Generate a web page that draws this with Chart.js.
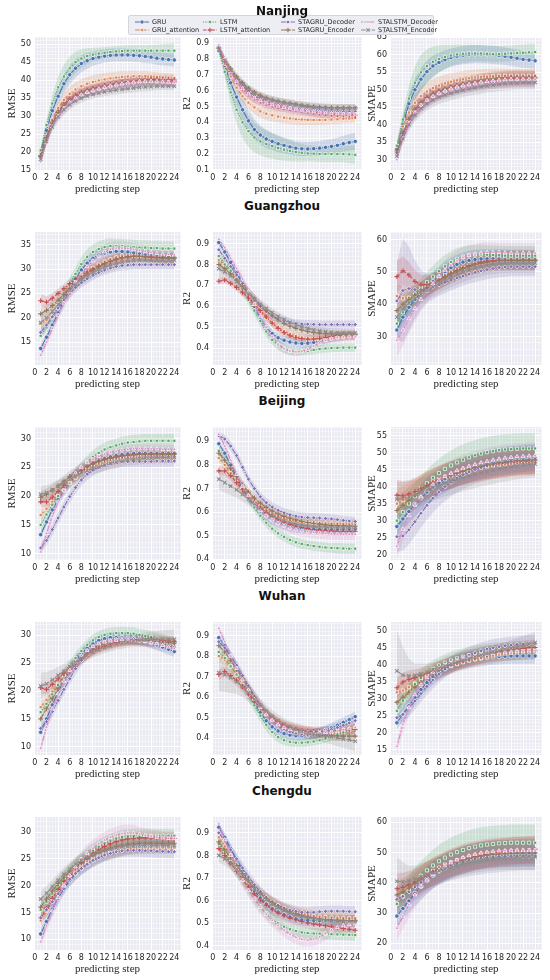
<!DOCTYPE html>
<html>
<head>
<meta charset="utf-8">
<script src="https://cdn.jsdelivr.net/npm/chart.js@4.4.0/dist/chart.umd.min.js"></script>
<style>
body { margin: 0; width: 550px; height: 980px; background: #fff; position: relative; overflow: hidden; font-family: "DejaVu Sans"; }
canvas { position: absolute; }
.ttl { position: absolute; left: 0; width: 564px; text-align: center; font: bold 12px "DejaVu Sans"; line-height: 14px; color: #111; z-index: 6; }
#legend { position: absolute; left: 128px; top: 15px; width: 304px; height: 18px; background: rgba(234,234,242,0.85); border: 1px solid #d4d4dc; border-radius: 2px; z-index: 5; }
#legend span { position: absolute; font: 6.5px "DejaVu Sans"; color: #262626; line-height: 8px; white-space: nowrap; }
</style>
</head>
<body>
<div id="legend"></div>
<script>
// data: mean value per step and half width of the shaded band

const steps = [1,2,3,4,5,6,7,8,9,10,11,12,13,14,15,16,17,18,19,20,21,22,23,24];
const models = ['GRU','GRU_attention','LSTM','LSTM_attention','STAGRU_Decoder','STAGRU_Encoder','STALSTM_Decoder','STALSTM_Encoder'];
const cities = ['Nanjing','Guangzhou','Beijing','Wuhan','Chengdu'];
const metrics = ['RMSE','R2','SMAPE'];

const nanjingRmse = [
  [20,26,31.5,35.5,39,41.5,43.3,44.6,45.4,46,46.4,46.7,46.9,47,47,47,46.9,46.8,46.6,46.4,46.1,45.9,45.7,45.6],
  [19.5,24.5,29,32.3,34.5,36.2,37.4,38.3,39,39.5,39.9,40.2,40.5,40.7,40.9,41,41.1,41.1,41.1,41,40.9,40.8,40.7,40.6],
  [20.5,27.5,33.5,38,41,43.3,45,46,46.7,47.1,47.4,47.6,47.8,48,48.1,48.2,48.2,48.2,48.2,48.2,48.2,48.2,48.2,48.2],
  [19,24,28.3,31.2,33.3,34.8,35.8,36.6,37.2,37.7,38.1,38.5,38.8,39.1,39.4,39.6,39.8,40,40.1,40.2,40.2,40.1,40.1,40],
  [18.5,23.5,27.8,30.8,32.8,34.3,35.3,36.1,36.7,37.2,37.6,38,38.3,38.6,38.9,39.1,39.3,39.5,39.6,39.7,39.7,39.7,39.6,39.5],
  [18.8,24,28,31,33,34.5,35.6,36.4,37,37.5,37.9,38.3,38.6,38.9,39.2,39.4,39.6,39.7,39.8,39.8,39.8,39.7,39.6,39.5],
  [17.3,22.5,27,30,32.2,33.8,35,35.9,36.6,37.1,37.6,38,38.4,38.7,39,39.3,39.5,39.6,39.7,39.7,39.6,39.5,39.4,39.3],
  [18,23,27,29.8,31.8,33.2,34.2,35,35.6,36,36.4,36.7,37,37.2,37.4,37.6,37.8,38,38.1,38.2,38.3,38.3,38.3,38.3]
];
const nanjingRmseBand = [
  [0.6,1.2,1.8,2.3,2.6,2.7,2.6,2.4,2.2,2,1.9,1.8,1.8,1.8,1.8,1.8,1.8,1.8,1.8,1.8,1.8,1.8,1.8,1.8],
  [0.6,1,1.4,1.7,1.9,2,2,2,1.9,1.9,1.8,1.8,1.7,1.7,1.6,1.5,1.5,1.4,1.4,1.3,1.3,1.2,1.2,1.2],
  [0.8,1.6,2.4,3,3.3,3.3,3,2.6,2.2,1.9,1.7,1.6,1.5,1.5,1.5,1.5,1.5,1.5,1.5,1.6,1.7,1.8,1.9,2],
  [0.6,1,1.3,1.5,1.6,1.6,1.6,1.5,1.5,1.4,1.4,1.4,1.4,1.4,1.4,1.4,1.4,1.4,1.4,1.4,1.4,1.4,1.4,1.4],
  [0.6,0.9,1.2,1.4,1.5,1.5,1.5,1.5,1.4,1.4,1.4,1.4,1.4,1.4,1.4,1.4,1.4,1.4,1.4,1.4,1.4,1.4,1.4,1.4],
  [0.5,0.9,1.2,1.4,1.5,1.5,1.4,1.4,1.3,1.3,1.3,1.3,1.3,1.3,1.3,1.3,1.3,1.3,1.3,1.3,1.3,1.3,1.3,1.3],
  [0.7,1,1.3,1.5,1.6,1.6,1.5,1.5,1.4,1.4,1.4,1.4,1.4,1.4,1.4,1.4,1.4,1.4,1.4,1.4,1.4,1.4,1.4,1.4],
  [0.5,0.8,1.1,1.3,1.4,1.4,1.3,1.3,1.2,1.2,1.2,1.2,1.2,1.2,1.2,1.2,1.2,1.2,1.2,1.2,1.1,1.1,1.1,1.1]
];
const nanjingR2 = [
  [0.86,0.76,0.65,0.56,0.48,0.41,0.355,0.32,0.295,0.28,0.265,0.255,0.245,0.237,0.233,0.232,0.234,0.237,0.242,0.248,0.255,0.265,0.273,0.28],
  [0.86,0.77,0.69,0.62,0.565,0.525,0.495,0.47,0.455,0.445,0.437,0.43,0.425,0.42,0.418,0.416,0.415,0.415,0.416,0.418,0.42,0.423,0.425,0.428],
  [0.85,0.72,0.59,0.48,0.4,0.345,0.305,0.28,0.263,0.25,0.238,0.228,0.22,0.213,0.208,0.204,0.202,0.2,0.2,0.2,0.2,0.2,0.198,0.195],
  [0.87,0.79,0.72,0.66,0.615,0.58,0.555,0.535,0.52,0.51,0.5,0.495,0.488,0.482,0.476,0.47,0.465,0.46,0.455,0.452,0.45,0.448,0.447,0.446],
  [0.88,0.8,0.73,0.675,0.63,0.595,0.57,0.55,0.535,0.523,0.513,0.505,0.498,0.492,0.486,0.481,0.477,0.474,0.472,0.47,0.469,0.468,0.468,0.468],
  [0.87,0.8,0.74,0.69,0.65,0.615,0.59,0.57,0.555,0.543,0.534,0.527,0.52,0.514,0.508,0.503,0.499,0.496,0.494,0.493,0.492,0.492,0.492,0.492],
  [0.89,0.8,0.72,0.66,0.615,0.58,0.556,0.538,0.523,0.512,0.503,0.496,0.49,0.484,0.478,0.473,0.468,0.464,0.46,0.457,0.455,0.453,0.452,0.452],
  [0.86,0.79,0.73,0.68,0.64,0.61,0.585,0.565,0.55,0.54,0.532,0.525,0.518,0.512,0.506,0.501,0.497,0.494,0.492,0.49,0.49,0.49,0.49,0.49]
];
const nanjingR2Band = [
  [0.01,0.03,0.05,0.06,0.07,0.07,0.065,0.06,0.058,0.055,0.053,0.05,0.048,0.046,0.045,0.045,0.045,0.045,0.046,0.047,0.048,0.05,0.052,0.055],
  [0.01,0.02,0.03,0.035,0.04,0.04,0.04,0.04,0.04,0.04,0.038,0.037,0.036,0.035,0.034,0.033,0.032,0.031,0.03,0.03,0.03,0.03,0.03,0.03],
  [0.01,0.04,0.07,0.09,0.1,0.1,0.095,0.09,0.085,0.08,0.075,0.07,0.065,0.06,0.055,0.05,0.05,0.05,0.05,0.05,0.05,0.052,0.055,0.058],
  [0.01,0.02,0.025,0.03,0.03,0.03,0.03,0.03,0.03,0.03,0.03,0.03,0.03,0.03,0.03,0.03,0.03,0.03,0.03,0.03,0.03,0.03,0.03,0.03],
  [0.01,0.02,0.025,0.028,0.03,0.03,0.03,0.03,0.03,0.03,0.03,0.03,0.03,0.03,0.03,0.03,0.03,0.028,0.028,0.028,0.028,0.028,0.028,0.028],
  [0.01,0.018,0.022,0.025,0.025,0.025,0.025,0.025,0.025,0.025,0.025,0.025,0.025,0.025,0.025,0.025,0.025,0.025,0.025,0.025,0.025,0.025,0.025,0.025],
  [0.01,0.02,0.025,0.03,0.03,0.03,0.03,0.03,0.03,0.03,0.03,0.03,0.03,0.03,0.03,0.03,0.03,0.03,0.03,0.03,0.03,0.03,0.03,0.03],
  [0.01,0.018,0.022,0.025,0.025,0.025,0.025,0.025,0.025,0.025,0.025,0.025,0.025,0.025,0.025,0.025,0.025,0.025,0.025,0.025,0.025,0.025,0.025,0.025]
];
const nanjingSmape = [
  [33,40,46,50,53,55.2,56.8,57.8,58.6,59.2,59.6,59.9,60.1,60.2,60.2,60.1,60,59.8,59.6,59.3,59,58.7,58.5,58.3],
  [34,39.5,43.5,46.3,48.2,49.5,50.5,51.2,51.8,52.3,52.7,53,53.3,53.5,53.7,53.8,53.9,54,54,54,54,54,54,54],
  [34,41.5,47.5,52,55,56.8,58,58.8,59.4,59.8,60.1,60.3,60.4,60.4,60.4,60.3,60.2,60.2,60.3,60.4,60.5,60.6,60.7,60.8],
  [32,37.5,41.5,44.3,46.3,47.7,48.8,49.6,50.2,50.7,51.1,51.5,51.8,52.1,52.4,52.6,52.8,53,53.1,53.2,53.3,53.3,53.3,53.3],
  [32,37,41,43.8,45.7,47.1,48.2,49,49.6,50.1,50.6,51,51.3,51.6,51.9,52.1,52.3,52.5,52.6,52.7,52.8,52.8,52.8,52.8],
  [32.5,37.5,41.5,44.3,46.3,47.7,48.8,49.6,50.2,50.8,51.3,51.7,52.1,52.4,52.7,53,53.2,53.4,53.5,53.6,53.6,53.6,53.6,53.6],
  [30,36,40.5,43.5,45.6,47,48.1,49,49.7,50.3,50.8,51.2,51.6,51.9,52.2,52.4,52.6,52.8,52.9,53,53,53,53,53],
  [31,36,40,42.8,44.7,46.1,47.1,47.9,48.5,49,49.5,49.9,50.3,50.6,50.9,51.2,51.4,51.6,51.8,51.9,52,52.1,52.1,52.1]
];
const nanjingSmapeBand = [
  [1,2,2.8,3.2,3.3,3.2,3,2.8,2.7,2.6,2.6,2.6,2.6,2.6,2.6,2.6,2.6,2.6,2.5,2.5,2.4,2.4,2.3,2.3],
  [1,1.6,2.1,2.4,2.6,2.6,2.6,2.6,2.5,2.5,2.4,2.4,2.3,2.3,2.2,2.2,2.1,2.1,2,2,2,2,2,2],
  [1.2,2.5,3.8,4.7,5,4.8,4.4,3.9,3.4,3,2.8,2.6,2.5,2.4,2.3,2.3,2.3,2.3,2.3,2.3,2.3,2.3,2.3,2.3],
  [0.9,1.4,1.8,2.1,2.2,2.2,2.2,2.2,2.1,2.1,2.1,2.1,2.1,2.1,2.1,2.1,2.1,2.1,2.1,2.1,2.1,2.1,2.1,2.1],
  [0.9,1.4,1.8,2,2.1,2.1,2.1,2.1,2.1,2.1,2.1,2.1,2.1,2.1,2.1,2.1,2.1,2.1,2.1,2.1,2.1,2.1,2.1,2.1],
  [0.9,1.3,1.7,2,2.1,2.1,2.1,2.1,2,2,2,2,2,2,2,2,2,2,2,2,2,2,2,2],
  [1,1.5,1.9,2.1,2.2,2.2,2.2,2.2,2.2,2.2,2.2,2.2,2.2,2.2,2.2,2.2,2.2,2.2,2.2,2.2,2.2,2.2,2.2,2.2],
  [0.9,1.3,1.7,1.9,2,2,2,2,2,2,2,2,2,2,2,2,2,2,2,2,2,2,2,2]
];

const guangzhouRmse = [
  [13.7,16,18.5,21,23.5,26,28,29.8,31.2,32.2,32.9,33.3,33.5,33.6,33.6,33.5,33.3,33.1,32.9,32.7,32.6,32.5,32.4,32.4],
  [18.8,19.5,21,22.8,24.5,26,27.3,28.4,29.4,30.2,30.9,31.5,32,32.4,32.6,32.7,32.7,32.6,32.5,32.4,32.3,32.2,32.1,32.1],
  [16.3,18,20,22,24.5,27,29,31,32.5,33.5,34.1,34.5,34.7,34.7,34.7,34.6,34.5,34.4,34.4,34.3,34.3,34.2,34.2,34.2],
  [23.5,23.2,24,25,26,27,27.9,28.7,29.4,30,30.6,31.1,31.6,32,32.3,32.5,32.6,32.6,32.6,32.5,32.4,32.4,32.3,32.3],
  [17,18.5,20.2,22,23.6,25,26.2,27.2,28,28.7,29.3,29.8,30.2,30.5,30.7,30.8,30.9,30.9,30.9,30.9,30.9,30.9,30.9,30.9],
  [20.8,21.5,22.5,23.6,24.8,26,27.1,28.1,29,29.8,30.5,31.1,31.6,32,32.3,32.5,32.6,32.6,32.5,32.4,32.3,32.2,32.2,32.2],
  [12.3,15,17.8,20.5,23,25.3,27.3,29,30.5,31.7,32.7,33.5,34,34.3,34.3,34.2,34,33.8,33.6,33.4,33.2,33.1,33,32.9],
  [19,20,21.3,22.7,24.2,25.6,26.8,27.8,28.6,29.3,29.9,30.4,30.8,31.1,31.4,31.6,31.7,31.8,31.8,31.8,31.8,31.8,31.8,31.8]
];
const guangzhouRmseBand = [
  [0.8,0.9,1,1.1,1.2,1.2,1.2,1.2,1.2,1.2,1.2,1.2,1.2,1.2,1.2,1.2,1.2,1.2,1.2,1.2,1.2,1.2,1.2,1.2],
  [1.2,1.1,1,1,1,1,1,1,1,1,1,1,1,1,1,1,1,1,1,1,1,1,1,1],
  [0.8,0.9,1,1.1,1.2,1.3,1.4,1.5,1.6,1.6,1.6,1.6,1.6,1.5,1.5,1.5,1.5,1.5,1.5,1.5,1.5,1.5,1.5,1.5],
  [1.3,1.2,1.1,1,1,1,1,1,1,1,1,1,1,1,1,1,1,1,1,1,1,1,1,1],
  [0.9,1,1,1,1,1,1,1,1,1,1,1,1,1,1,1,1,1,1,1,1,1,1,1],
  [1.1,1,1,1,1,1,1.1,1.1,1.1,1.1,1.1,1.1,1.1,1.1,1.1,1.1,1.1,1.1,1.1,1.1,1.1,1.1,1.1,1.1],
  [0.8,0.9,1,1.1,1.2,1.3,1.4,1.5,1.6,1.6,1.6,1.6,1.5,1.5,1.4,1.4,1.3,1.3,1.3,1.3,1.3,1.3,1.3,1.3],
  [1.5,1.4,1.3,1.2,1.2,1.2,1.2,1.2,1.2,1.2,1.2,1.2,1.2,1.2,1.2,1.2,1.2,1.2,1.2,1.2,1.2,1.2,1.2,1.2]
];
const guangzhouR2 = [
  [0.905,0.86,0.81,0.76,0.71,0.65,0.6,0.545,0.5,0.47,0.45,0.438,0.43,0.425,0.423,0.424,0.428,0.435,0.443,0.45,0.455,0.458,0.46,0.46],
  [0.82,0.8,0.77,0.73,0.69,0.65,0.61,0.575,0.545,0.52,0.5,0.482,0.468,0.457,0.45,0.445,0.443,0.444,0.447,0.45,0.453,0.456,0.458,0.46],
  [0.84,0.8,0.77,0.73,0.68,0.63,0.58,0.53,0.48,0.44,0.415,0.398,0.388,0.384,0.385,0.388,0.392,0.396,0.399,0.401,0.402,0.403,0.403,0.403],
  [0.72,0.725,0.71,0.69,0.665,0.64,0.61,0.58,0.55,0.52,0.495,0.475,0.46,0.45,0.445,0.443,0.444,0.447,0.452,0.457,0.461,0.463,0.464,0.465],
  [0.87,0.83,0.79,0.75,0.71,0.67,0.635,0.6,0.575,0.555,0.54,0.53,0.522,0.518,0.516,0.515,0.514,0.513,0.513,0.513,0.513,0.513,0.513,0.513],
  [0.8,0.78,0.755,0.725,0.695,0.665,0.635,0.605,0.58,0.555,0.535,0.518,0.505,0.495,0.487,0.48,0.475,0.472,0.47,0.469,0.468,0.468,0.468,0.468],
  [0.92,0.88,0.83,0.78,0.73,0.67,0.61,0.55,0.5,0.455,0.42,0.398,0.387,0.383,0.386,0.395,0.41,0.425,0.437,0.445,0.45,0.453,0.455,0.455],
  [0.78,0.765,0.745,0.72,0.69,0.66,0.635,0.61,0.59,0.57,0.552,0.537,0.524,0.513,0.503,0.495,0.488,0.483,0.479,0.476,0.474,0.473,0.472,0.472]
];
const guangzhouR2Band = [
  [0.015,0.017,0.019,0.02,0.021,0.022,0.022,0.022,0.022,0.021,0.02,0.02,0.02,0.02,0.02,0.02,0.02,0.02,0.02,0.02,0.02,0.02,0.02,0.02],
  [0.02,0.02,0.02,0.02,0.02,0.02,0.02,0.02,0.02,0.02,0.02,0.02,0.02,0.02,0.02,0.02,0.02,0.02,0.02,0.02,0.02,0.02,0.02,0.02],
  [0.02,0.02,0.02,0.021,0.022,0.023,0.024,0.025,0.025,0.025,0.024,0.023,0.022,0.021,0.02,0.02,0.02,0.02,0.02,0.02,0.02,0.02,0.02,0.02],
  [0.015,0.015,0.016,0.017,0.018,0.019,0.02,0.02,0.02,0.02,0.02,0.02,0.02,0.02,0.02,0.02,0.02,0.02,0.02,0.02,0.02,0.02,0.02,0.02],
  [0.02,0.02,0.02,0.02,0.02,0.02,0.02,0.02,0.02,0.02,0.02,0.02,0.02,0.02,0.02,0.02,0.02,0.02,0.02,0.02,0.02,0.02,0.02,0.02],
  [0.03,0.03,0.028,0.026,0.025,0.024,0.023,0.022,0.021,0.02,0.02,0.02,0.02,0.02,0.02,0.02,0.02,0.02,0.02,0.02,0.02,0.02,0.02,0.02],
  [0.015,0.017,0.019,0.021,0.023,0.025,0.026,0.026,0.025,0.024,0.022,0.02,0.018,0.017,0.017,0.018,0.019,0.02,0.02,0.02,0.02,0.02,0.02,0.02],
  [0.045,0.042,0.038,0.034,0.03,0.027,0.025,0.024,0.023,0.022,0.021,0.02,0.02,0.02,0.02,0.02,0.02,0.02,0.02,0.02,0.02,0.02,0.02,0.02]
];
const guangzhouSmape = [
  [32,36,39,41.5,43.5,45.3,47,48.5,50,51.3,52.3,53,53.5,53.8,54,54,54,54,53.9,53.8,53.8,53.8,53.8,53.8],
  [42.5,41.8,42,42.8,44,45.3,46.6,47.8,48.9,49.8,50.6,51.3,51.9,52.4,52.8,53.1,53.3,53.4,53.5,53.5,53.5,53.5,53.5,53.5],
  [34,37.5,40.5,43,45,46.8,48.5,50.2,51.7,53,54,54.7,55.1,55.3,55.4,55.3,55.2,55.1,55,55,55,55,55,55],
  [48.5,50.3,49,47,46,46,46.6,47.5,48.5,49.5,50.4,51.2,51.9,52.5,53,53.3,53.5,53.6,53.6,53.6,53.6,53.6,53.6,53.6],
  [41,44.2,44.8,44.5,44.5,44.8,45.3,46,46.7,47.4,48.1,48.7,49.3,49.8,50.3,50.7,51,51.3,51.5,51.6,51.6,51.6,51.6,51.6],
  [38,40,41.5,42.8,44,45.2,46.4,47.5,48.5,49.4,50.2,51,51.6,52.2,52.6,53,53.2,53.4,53.5,53.5,53.5,53.5,53.5,53.5],
  [28.8,32,35.5,38.7,41.5,44,46.3,48.5,50.5,52.1,53.4,54.4,55.1,55.5,55.8,56,56,56,55.9,55.8,55.8,55.8,55.8,55.8],
  [36,38.5,40.3,41.8,43,44.2,45.3,46.3,47.3,48.2,49,49.8,50.5,51.1,51.6,52,52.3,52.5,52.6,52.7,52.7,52.7,52.7,52.7]
];
const guangzhouSmapeBand = [
  [3,3,3,3,3,3,3,3,3,3,3,3,3,3,3,3,3,3,3,3,3,3,3,3],
  [4,3.5,3.2,3,3,3,3,3,3,3,3,3,3,3,3,3,3,3,3,3,3,3,3,3],
  [3,3,3,3,3,3.2,3.4,3.5,3.5,3.4,3.3,3.2,3.1,3,3,3,3,3,3,3,3,3,3,3],
  [5,4.5,4,3.5,3.2,3,3,3,3,3,3,3,3,3,3,3,3,3,3,3,3,3,3,3],
  [12,16,13,9,6,4.5,3.8,3.5,3.3,3.2,3.1,3,3,3,3,3,3,3,3,3,3,3,3,3],
  [4,3.6,3.3,3.1,3,3,3,3,3,3,3,3,3,3,3,3,3,3,3,3,3,3,3,3],
  [5,5,4.6,4.2,3.8,3.5,3.3,3.2,3.2,3.2,3.2,3.2,3.2,3.2,3.2,3.1,3,3,3,3,3,3,3,3],
  [4.5,4,3.6,3.3,3.1,3,3,3,3,3,3,3,3,3,3,3,3,3,3,3,3,3,3,3]
];

const beijingRmse = [
  [13.3,15.5,17.6,19.4,21,22.3,23.4,24.3,25,25.6,26.1,26.5,26.8,27,27.2,27.3,27.4,27.4,27.4,27.4,27.4,27.4,27.4,27.4],
  [16.7,17.8,19,20.2,21.3,22.3,23.2,24,24.6,25.1,25.5,25.8,26.1,26.3,26.5,26.6,26.7,26.7,26.7,26.7,26.7,26.7,26.7,26.7],
  [15,16.8,18.5,20,21.4,22.6,23.8,24.9,25.9,26.8,27.5,28.1,28.5,28.8,29.1,29.3,29.4,29.5,29.6,29.6,29.6,29.6,29.6,29.6],
  [19,19,19.8,20.8,21.8,22.8,23.7,24.5,25.2,25.7,26.1,26.4,26.6,26.8,27,27.1,27.2,27.3,27.3,27.3,27.3,27.3,27.3,27.3],
  [11,12.3,14.2,16.2,18.1,19.9,21.5,22.8,23.8,24.5,25,25.4,25.7,25.9,26,26,26,26,26,26,26.1,26.1,26.1,26.1],
  [19.8,20.3,21,21.8,22.6,23.4,24.1,24.7,25.2,25.6,26,26.3,26.6,26.8,27,27.1,27.2,27.3,27.3,27.3,27.3,27.3,27.3,27.3],
  [10.3,13.5,16.5,19,21,22.7,24,25,25.8,26.4,26.9,27.3,27.6,27.8,28,28.1,28.2,28.2,28.2,28.2,28.2,28.1,28.1,28.1],
  [20.3,20.6,21.1,21.7,22.3,22.9,23.5,24,24.4,24.8,25.1,25.4,25.7,25.9,26.1,26.3,26.4,26.5,26.6,26.6,26.7,26.7,26.7,26.7]
];
const beijingRmseBand = [
  [0.8,0.8,0.9,0.9,1,1,1,1,1,1,1,1,1,1,1,1,1,1,1,1,1,1,1,1],
  [0.9,0.9,0.9,0.9,0.9,0.9,0.9,0.9,0.9,0.9,0.9,0.9,0.9,0.9,0.9,0.9,0.9,0.9,0.9,0.9,0.9,0.9,0.9,0.9],
  [0.9,0.9,1,1,1,1,1,1.1,1.1,1.2,1.2,1.2,1.2,1.2,1.2,1.2,1.2,1.2,1.2,1.2,1.2,1.2,1.2,1.2],
  [1,0.9,0.9,0.9,0.9,0.9,0.9,0.9,0.9,0.9,0.9,0.9,0.9,0.9,0.9,0.9,0.9,0.9,0.9,0.9,0.9,0.9,0.9,0.9],
  [0.8,0.9,1,1,1,1,1,1,1,1,1,1,1,1,1,1,1,1,1,1,1,1,1,1],
  [1.1,1,1,1,1,1,1,1,1,1,1,1,1,1,1,1,1,1,1,1,1,1,1,1],
  [0.8,0.9,0.9,0.9,0.9,0.9,0.9,0.9,0.9,0.9,0.9,0.9,0.9,0.9,0.9,0.9,0.9,0.9,0.9,0.9,0.9,0.9,0.9,0.9],
  [1.4,1.3,1.2,1.1,1,1,1,1,1,1,1,1,1,1,1,1,1,1,1,1,1,1,1,1]
];
const beijingR2 = [
  [0.89,0.85,0.8,0.75,0.7,0.66,0.63,0.605,0.585,0.568,0.555,0.545,0.538,0.533,0.53,0.528,0.527,0.527,0.527,0.527,0.527,0.528,0.529,0.53],
  [0.83,0.8,0.765,0.73,0.7,0.67,0.645,0.625,0.608,0.594,0.583,0.574,0.567,0.562,0.558,0.555,0.553,0.552,0.551,0.551,0.551,0.551,0.551,0.551],
  [0.86,0.82,0.78,0.74,0.7,0.66,0.62,0.585,0.555,0.53,0.51,0.495,0.482,0.472,0.465,0.46,0.456,0.453,0.45,0.448,0.447,0.446,0.445,0.445],
  [0.775,0.775,0.755,0.725,0.695,0.665,0.64,0.617,0.598,0.582,0.568,0.557,0.548,0.541,0.535,0.53,0.526,0.523,0.521,0.52,0.519,0.519,0.519,0.519],
  [0.925,0.91,0.88,0.84,0.79,0.74,0.7,0.665,0.64,0.622,0.608,0.597,0.589,0.583,0.579,0.577,0.576,0.575,0.573,0.571,0.568,0.565,0.562,0.56],
  [0.85,0.82,0.785,0.75,0.715,0.685,0.66,0.638,0.62,0.605,0.592,0.582,0.574,0.567,0.561,0.556,0.552,0.549,0.546,0.544,0.543,0.542,0.541,0.54],
  [0.93,0.88,0.82,0.76,0.71,0.67,0.635,0.607,0.585,0.567,0.553,0.542,0.533,0.526,0.521,0.517,0.514,0.512,0.51,0.508,0.507,0.506,0.506,0.506],
  [0.74,0.725,0.71,0.695,0.675,0.655,0.635,0.617,0.6,0.586,0.574,0.564,0.556,0.55,0.545,0.541,0.538,0.536,0.535,0.534,0.534,0.534,0.534,0.534]
];
const beijingR2Band = [
  [0.015,0.018,0.02,0.02,0.02,0.02,0.02,0.02,0.02,0.02,0.02,0.02,0.02,0.02,0.02,0.02,0.02,0.02,0.02,0.02,0.02,0.02,0.02,0.02],
  [0.02,0.02,0.02,0.02,0.02,0.02,0.02,0.02,0.02,0.02,0.02,0.02,0.02,0.02,0.02,0.02,0.02,0.02,0.02,0.02,0.02,0.02,0.02,0.02],
  [0.02,0.02,0.02,0.02,0.02,0.02,0.02,0.02,0.02,0.02,0.02,0.02,0.02,0.02,0.02,0.02,0.02,0.02,0.02,0.02,0.022,0.022,0.022,0.022],
  [0.02,0.02,0.02,0.02,0.02,0.02,0.02,0.02,0.02,0.02,0.02,0.02,0.02,0.02,0.02,0.02,0.02,0.02,0.02,0.02,0.02,0.02,0.02,0.02],
  [0.015,0.018,0.02,0.02,0.02,0.02,0.02,0.02,0.02,0.02,0.02,0.02,0.02,0.02,0.02,0.02,0.02,0.02,0.02,0.02,0.02,0.02,0.02,0.02],
  [0.025,0.024,0.023,0.022,0.021,0.02,0.02,0.02,0.02,0.02,0.02,0.02,0.02,0.02,0.02,0.02,0.02,0.02,0.02,0.02,0.02,0.02,0.02,0.02],
  [0.015,0.018,0.02,0.022,0.024,0.025,0.025,0.025,0.025,0.025,0.025,0.025,0.025,0.025,0.025,0.025,0.025,0.025,0.025,0.025,0.025,0.025,0.025,0.025],
  [0.045,0.042,0.038,0.034,0.03,0.027,0.025,0.023,0.022,0.021,0.02,0.02,0.02,0.02,0.02,0.02,0.02,0.02,0.02,0.02,0.02,0.02,0.02,0.02]
];
const beijingSmape = [
  [28.3,30.5,32.7,34.8,36.7,38.4,39.9,41.2,42.3,43.2,44,44.7,45.3,45.8,46.3,46.7,47.1,47.4,47.7,47.9,48.1,48.3,48.4,48.5],
  [35,36,37.2,38.4,39.5,40.5,41.4,42.2,42.9,43.5,44,44.5,44.9,45.3,45.6,45.9,46.2,46.4,46.6,46.8,46.9,47,47.1,47.2],
  [30,32.5,35,37.2,39.2,41,42.6,44,45.2,46.2,47.1,47.9,48.6,49.2,49.7,50.1,50.4,50.7,50.9,51,51.1,51.2,51.2,51.2],
  [37.5,37.3,37.8,38.6,39.5,40.4,41.3,42.1,42.8,43.4,44,44.5,45,45.4,45.8,46.1,46.4,46.7,46.9,47.1,47.3,47.4,47.5,47.6],
  [25.3,25.5,27.3,29.7,32.2,34.5,36.6,38.4,40,41.3,42.5,43.5,44.3,45,45.6,46.1,46.5,46.9,47.2,47.4,47.6,47.8,47.9,48],
  [33,34.5,36,37.5,38.8,40,41,41.9,42.7,43.4,44,44.6,45.1,45.6,46,46.4,46.7,47,47.2,47.4,47.6,47.7,47.8,47.9],
  [22.5,27.5,31.5,34.6,37,39,40.6,41.9,43,43.9,44.7,45.4,46,46.5,47,47.4,47.8,48.1,48.4,48.6,48.8,48.9,49,49.1],
  [36.3,36.5,37,37.7,38.4,39.1,39.8,40.4,41,41.6,42.1,42.6,43.1,43.6,44,44.4,44.8,45.2,45.5,45.8,46.1,46.3,46.5,46.6]
];
const beijingSmapeBand = [
  [3,3.2,3.4,3.6,3.8,4,4,4,4,4,4,4,4,4,4,4,4,4,4,4,4,4,4,4],
  [4,4,4,4,4,4,4,4,4,4,4,4,4,4,4,4,4,4,4,4,4,4,4,4],
  [3.5,3.6,3.7,3.8,3.9,4,4.1,4.2,4.3,4.4,4.5,4.5,4.5,4.5,4.5,4.5,4.5,4.5,4.5,4.5,4.5,4.5,4.5,4.5],
  [4.5,4.3,4.1,4,4,4,4,4,4,4,4,4,4,4,4,4,4,4,4,4,4,4,4,4],
  [4.5,4.3,4.2,4.2,4.2,4.2,4.2,4.2,4.2,4.2,4.2,4.2,4.2,4.2,4.2,4.2,4.2,4.2,4.2,4.2,4.2,4.2,4.2,4.2],
  [4,4,4,4,4,4,4,4,4,4,4,4,4,4,4,4,4,4,4,4,4,4,4,4],
  [3.5,3.6,3.7,3.8,3.9,4,4,4,4,4,4,4,4,4,4,4,4,4,4,4,4,4,4,4],
  [5,4.8,4.6,4.4,4.2,4,4,4,4,4,4,4,4,4,4,4,4,4,4,4,4,4,4,4]
];

const wuhanRmse = [
  [12.6,15,17.5,19.8,21.9,23.8,25.4,26.7,27.7,28.5,29.1,29.4,29.6,29.6,29.6,29.5,29.4,29.2,29,28.7,28.3,27.9,27.5,27.1],
  [17.1,18.4,19.9,21.3,22.6,23.8,24.9,25.8,26.6,27.3,27.8,28.2,28.5,28.7,28.9,29,29.1,29.1,29.1,29,28.9,28.8,28.7,28.6],
  [16.2,17.7,19.4,21.1,22.8,24.4,25.9,27.2,28.3,29.1,29.7,30.1,30.3,30.4,30.4,30.4,30.3,30.1,29.9,29.7,29.4,29.1,28.8,28.5],
  [20.6,20.3,21.2,22.2,23.2,24.2,25.1,25.9,26.6,27.2,27.7,28.1,28.4,28.7,28.9,29.1,29.2,29.3,29.3,29.3,29.2,29.1,29,28.9],
  [13.3,14.5,16.3,18.3,20.3,22.2,24,25.5,26.7,27.6,28.3,28.8,29.1,29.3,29.4,29.4,29.4,29.3,29.2,29,28.8,28.5,28.2,27.9],
  [15,16.8,18.6,20.4,22,23.5,24.8,25.9,26.8,27.5,28.1,28.5,28.8,29,29.1,29.2,29.2,29.2,29.1,29,28.9,28.8,28.7,28.6],
  [9.7,13.5,16.8,19.5,21.8,23.7,25.2,26.4,27.3,28,28.5,28.8,29,29.1,29.2,29.2,29.1,29,28.9,28.7,28.5,28.2,27.9,27.6],
  [20.9,21.3,22,22.8,23.6,24.4,25.2,25.9,26.5,27,27.4,27.8,28.1,28.4,28.6,28.8,29,29.1,29.2,29.3,29.3,29.3,29.3,29.3]
];
const wuhanRmseBand = [
  [0.8,0.9,1,1,1,1,1,1,1,1,1,1,1,1,1,1,1,1,1,1,1,1,1,1],
  [0.9,0.9,0.9,0.9,0.9,0.9,0.9,0.9,0.9,0.9,0.9,0.9,0.9,0.9,0.9,0.9,0.9,0.9,0.9,0.9,0.9,0.9,0.9,0.9],
  [0.9,0.9,1,1,1,1,1,1,1,1.1,1.1,1.1,1.1,1.1,1.1,1.1,1.1,1.1,1.1,1.1,1.1,1.1,1.1,1.1],
  [1,0.9,0.9,0.9,0.9,0.9,0.9,0.9,0.9,0.9,0.9,0.9,0.9,0.9,0.9,0.9,0.9,0.9,0.9,0.9,0.9,0.9,0.9,0.9],
  [0.9,0.9,1,1,1,1,1,1,1,1,1,1,1,1,1,1,1,1,1,1,1,1,1,1],
  [1,1,1,1,1,1,1,1,1,1,1,1,1,1,1,1,1,1,1,1,1,1,1,1],
  [0.8,0.9,1,1,1,1,1,1,1,1,1,1,1,1,1,1,1,1,1,1,1,1,1,1],
  [2.4,2.1,1.8,1.5,1.3,1.2,1.1,1,1,1,1,1,1,1,1,1,1.1,1.2,1.3,1.4,1.5,1.6,1.7,1.8]
];
const wuhanR2 = [
  [0.89,0.85,0.8,0.75,0.69,0.63,0.575,0.525,0.485,0.455,0.435,0.422,0.415,0.412,0.412,0.415,0.42,0.428,0.438,0.45,0.463,0.477,0.49,0.505],
  [0.8,0.78,0.75,0.71,0.67,0.625,0.585,0.548,0.517,0.492,0.472,0.457,0.446,0.438,0.432,0.428,0.426,0.426,0.428,0.431,0.435,0.44,0.444,0.448],
  [0.82,0.79,0.75,0.71,0.66,0.61,0.56,0.51,0.465,0.43,0.405,0.39,0.382,0.378,0.378,0.38,0.384,0.39,0.398,0.407,0.417,0.428,0.439,0.45],
  [0.71,0.725,0.705,0.68,0.65,0.615,0.58,0.548,0.52,0.497,0.478,0.463,0.452,0.444,0.438,0.434,0.432,0.432,0.433,0.435,0.437,0.439,0.441,0.443],
  [0.87,0.84,0.8,0.755,0.705,0.655,0.605,0.56,0.52,0.488,0.463,0.445,0.432,0.424,0.42,0.419,0.421,0.426,0.433,0.442,0.452,0.463,0.474,0.485],
  [0.85,0.82,0.78,0.735,0.69,0.645,0.6,0.56,0.525,0.495,0.472,0.455,0.443,0.434,0.427,0.422,0.418,0.415,0.413,0.412,0.411,0.41,0.41,0.41],
  [0.935,0.87,0.8,0.74,0.685,0.635,0.59,0.55,0.515,0.488,0.467,0.452,0.442,0.435,0.43,0.427,0.425,0.425,0.427,0.43,0.434,0.44,0.446,0.452],
  [0.72,0.71,0.695,0.675,0.65,0.62,0.59,0.56,0.532,0.507,0.486,0.468,0.454,0.443,0.434,0.427,0.421,0.416,0.411,0.406,0.401,0.396,0.391,0.385]
];
const wuhanR2Band = [
  [0.015,0.02,0.022,0.024,0.025,0.025,0.025,0.025,0.025,0.025,0.025,0.025,0.025,0.025,0.025,0.025,0.025,0.025,0.025,0.025,0.025,0.025,0.025,0.025],
  [0.025,0.025,0.025,0.025,0.025,0.025,0.025,0.025,0.025,0.025,0.025,0.025,0.025,0.025,0.025,0.025,0.025,0.025,0.025,0.025,0.025,0.025,0.025,0.025],
  [0.02,0.02,0.022,0.024,0.026,0.028,0.03,0.03,0.03,0.028,0.026,0.024,0.022,0.02,0.02,0.02,0.02,0.02,0.02,0.02,0.02,0.02,0.02,0.02],
  [0.025,0.025,0.025,0.025,0.025,0.025,0.025,0.025,0.025,0.025,0.025,0.025,0.025,0.025,0.025,0.025,0.025,0.025,0.025,0.025,0.025,0.025,0.025,0.025],
  [0.02,0.022,0.024,0.025,0.025,0.025,0.025,0.025,0.025,0.025,0.025,0.025,0.025,0.025,0.025,0.025,0.025,0.025,0.025,0.025,0.025,0.025,0.025,0.025],
  [0.025,0.025,0.025,0.025,0.025,0.025,0.025,0.025,0.025,0.025,0.025,0.025,0.025,0.025,0.025,0.025,0.025,0.025,0.025,0.025,0.025,0.025,0.025,0.025],
  [0.015,0.02,0.022,0.024,0.025,0.025,0.025,0.025,0.025,0.025,0.025,0.025,0.025,0.025,0.025,0.025,0.025,0.025,0.025,0.025,0.025,0.025,0.025,0.025],
  [0.09,0.085,0.075,0.06,0.05,0.045,0.04,0.035,0.03,0.03,0.03,0.03,0.03,0.03,0.03,0.03,0.03,0.032,0.034,0.036,0.04,0.043,0.046,0.05]
];
const wuhanSmape = [
  [23,25.5,28,30.5,32.8,34.8,36.5,37.9,39,39.9,40.6,41.1,41.5,41.8,42,42.2,42.4,42.5,42.6,42.7,42.7,42.7,42.7,42.7],
  [32,32.5,33.5,34.6,35.7,36.7,37.6,38.4,39.1,39.7,40.3,40.8,41.3,41.7,42.1,42.5,42.8,43.1,43.4,43.6,43.8,44,44.1,44.2],
  [26.5,29.5,32.2,34.4,36.2,37.7,38.9,39.9,40.7,41.4,42,42.5,42.9,43.3,43.6,43.8,44,44.2,44.3,44.4,44.5,44.5,44.5,44.5],
  [33.3,35,35.8,36.3,36.9,37.5,38.2,38.9,39.6,40.2,40.8,41.4,41.9,42.4,42.8,43.2,43.6,43.9,44.2,44.5,44.7,44.9,45.1,45.2],
  [24.5,25.5,27.3,29.4,31.6,33.7,35.6,37.3,38.8,40.1,41.2,42.1,42.9,43.6,44.2,44.7,45.1,45.4,45.7,45.9,46.1,46.2,46.3,46.4],
  [29,30.5,32,33.5,34.9,36.2,37.4,38.5,39.4,40.2,40.9,41.5,42,42.4,42.8,43.1,43.4,43.6,43.8,43.9,44,44.1,44.2,44.2],
  [16,22.5,27.5,31.3,34.2,36.3,37.9,39.1,40,40.7,41.3,41.8,42.2,42.6,42.9,43.2,43.4,43.6,43.8,43.9,44,44.1,44.2,44.2],
  [38.3,37,36.8,37,37.4,37.9,38.5,39.1,39.7,40.3,40.9,41.4,41.9,42.4,42.9,43.4,43.8,44.2,44.6,45,45.4,45.8,46.2,46.6]
];
const wuhanSmapeBand = [
  [2,2,2.2,2.3,2.3,2.3,2.3,2.3,2.3,2.3,2.3,2.3,2.3,2.3,2.3,2.3,2.3,2.3,2.3,2.3,2.3,2.3,2.3,2.3],
  [3,2.8,2.6,2.4,2.3,2.3,2.3,2.3,2.3,2.3,2.3,2.3,2.3,2.3,2.3,2.3,2.3,2.3,2.3,2.3,2.3,2.3,2.3,2.3],
  [2.5,2.5,2.5,2.5,2.5,2.5,2.5,2.5,2.5,2.5,2.5,2.5,2.5,2.5,2.5,2.5,2.5,2.5,2.5,2.5,2.5,2.5,2.5,2.5],
  [3,2.8,2.6,2.4,2.3,2.3,2.3,2.3,2.3,2.3,2.3,2.3,2.3,2.3,2.3,2.3,2.3,2.3,2.3,2.3,2.3,2.3,2.3,2.3],
  [2.5,2.5,2.5,2.5,2.5,2.5,2.5,2.5,2.5,2.5,2.5,2.5,2.5,2.5,2.5,2.5,2.5,2.5,2.5,2.5,2.5,2.5,2.5,2.5],
  [2.5,2.5,2.5,2.5,2.5,2.5,2.5,2.5,2.5,2.5,2.5,2.5,2.5,2.5,2.5,2.5,2.5,2.5,2.5,2.5,2.5,2.5,2.5,2.5],
  [2,2.5,2.5,2.5,2.5,2.5,2.5,2.5,2.5,2.5,2.5,2.5,2.5,2.5,2.5,2.5,2.5,2.5,2.5,2.5,2.5,2.5,2.5,2.5],
  [12,8.5,5,3.5,3,2.5,2.3,2.2,2.1,2,2,2,2,2,2,2,2,2,2.2,2.4,2.6,2.8,3,3.2]
];

const chengduRmse = [
  [11,13.3,15.6,17.7,19.5,21,22.2,23.2,24,24.7,25.3,25.8,26.2,26.5,26.8,27,27.1,27.2,27.2,27.2,27.2,27.2,27.2,27.2],
  [13.5,15.3,17.1,18.8,20.3,21.6,22.7,23.6,24.4,25,25.5,25.9,26.2,26.5,26.7,26.9,27,27.1,27.1,27.1,27.1,27.1,27.1,27.1],
  [15.5,17,18.5,20,21.4,22.7,23.9,24.9,25.8,26.6,27.3,27.9,28.4,28.8,29.1,29.2,29.3,29.3,29.3,29.3,29.3,29.3,29.3,29.3],
  [14,15.8,17.6,19.3,20.8,22.1,23.3,24.3,25.2,26,26.7,27.3,27.8,28.2,28.5,28.7,28.8,28.9,28.9,28.9,28.9,28.8,28.8,28.8],
  [14,15.5,17,18.5,19.9,21.2,22.3,23.2,24,24.7,25.2,25.7,26,26.3,26.5,26.6,26.6,26.6,26.5,26.5,26.4,26.4,26.3,26.3],
  [16,17.5,19,20.4,21.6,22.7,23.6,24.4,25.1,25.7,26.2,26.6,27,27.3,27.5,27.7,27.8,27.9,27.9,27.9,27.9,27.9,27.9,27.9],
  [9.5,12.5,15.3,17.8,20,21.9,23.5,24.9,26,27,27.8,28.5,29,29.4,29.7,29.8,29.8,29.6,29.4,29.2,29,28.9,28.8,28.8],
  [17.5,18.6,19.8,21,22.1,23.1,24,24.7,25.3,25.8,26.2,26.5,26.8,27,27.2,27.3,27.4,27.5,27.5,27.5,27.5,27.5,27.5,27.5]
];
const chengduRmseBand = [
  [1,1.1,1.2,1.2,1.2,1.2,1.2,1.2,1.2,1.2,1.2,1.2,1.2,1.2,1.2,1.2,1.2,1.2,1.2,1.2,1.2,1.2,1.2,1.2],
  [1.2,1.2,1.2,1.2,1.2,1.2,1.2,1.2,1.2,1.2,1.2,1.2,1.2,1.2,1.2,1.2,1.2,1.2,1.2,1.2,1.2,1.2,1.2,1.2],
  [1.3,1.3,1.3,1.3,1.3,1.3,1.3,1.3,1.3,1.3,1.3,1.3,1.3,1.3,1.3,1.3,1.3,1.3,1.3,1.3,1.3,1.3,1.3,1.3],
  [1.2,1.2,1.2,1.2,1.2,1.2,1.2,1.2,1.2,1.2,1.2,1.2,1.2,1.2,1.2,1.2,1.2,1.2,1.2,1.2,1.2,1.2,1.2,1.2],
  [1.2,1.2,1.2,1.2,1.2,1.2,1.2,1.2,1.2,1.2,1.2,1.2,1.2,1.2,1.2,1.2,1.2,1.2,1.2,1.2,1.2,1.2,1.2,1.2],
  [1.3,1.3,1.3,1.3,1.3,1.3,1.3,1.3,1.3,1.3,1.3,1.3,1.3,1.3,1.3,1.3,1.3,1.3,1.3,1.3,1.3,1.3,1.3,1.3],
  [1,1.1,1.2,1.3,1.4,1.5,1.5,1.6,1.6,1.6,1.6,1.6,1.6,1.6,1.6,1.6,1.5,1.4,1.3,1.3,1.3,1.3,1.3,1.3],
  [1.5,1.4,1.3,1.3,1.3,1.3,1.3,1.3,1.3,1.3,1.3,1.3,1.3,1.3,1.3,1.3,1.3,1.3,1.3,1.3,1.3,1.3,1.3,1.3]
];
const chengduR2 = [
  [0.925,0.88,0.83,0.78,0.73,0.685,0.645,0.612,0.585,0.565,0.55,0.538,0.528,0.52,0.515,0.513,0.512,0.512,0.512,0.512,0.512,0.512,0.512,0.512],
  [0.88,0.84,0.8,0.76,0.72,0.685,0.655,0.63,0.61,0.593,0.578,0.566,0.556,0.548,0.542,0.537,0.533,0.53,0.528,0.526,0.525,0.524,0.523,0.522],
  [0.85,0.81,0.77,0.73,0.69,0.65,0.61,0.575,0.545,0.52,0.5,0.485,0.474,0.466,0.46,0.457,0.455,0.454,0.453,0.452,0.451,0.45,0.449,0.448],
  [0.83,0.8,0.765,0.73,0.695,0.66,0.63,0.603,0.58,0.56,0.545,0.533,0.523,0.515,0.508,0.502,0.497,0.493,0.489,0.485,0.481,0.477,0.473,0.469],
  [0.9,0.865,0.825,0.785,0.745,0.705,0.67,0.64,0.615,0.595,0.58,0.568,0.559,0.553,0.549,0.548,0.549,0.551,0.553,0.554,0.554,0.553,0.552,0.551],
  [0.86,0.825,0.79,0.755,0.72,0.688,0.658,0.632,0.61,0.591,0.575,0.562,0.551,0.542,0.535,0.529,0.524,0.52,0.517,0.515,0.514,0.513,0.512,0.512],
  [0.94,0.87,0.8,0.74,0.69,0.645,0.605,0.57,0.54,0.513,0.49,0.47,0.452,0.438,0.429,0.426,0.43,0.44,0.455,0.47,0.482,0.49,0.495,0.498],
  [0.8,0.785,0.765,0.74,0.712,0.683,0.655,0.63,0.607,0.587,0.571,0.557,0.546,0.537,0.53,0.524,0.519,0.515,0.512,0.51,0.509,0.508,0.508,0.508]
];
const chengduR2Band = [
  [0.015,0.02,0.022,0.024,0.025,0.025,0.025,0.025,0.025,0.025,0.025,0.025,0.025,0.025,0.025,0.025,0.025,0.025,0.025,0.025,0.025,0.025,0.025,0.025],
  [0.025,0.025,0.025,0.025,0.025,0.025,0.025,0.025,0.025,0.025,0.025,0.025,0.025,0.025,0.025,0.025,0.025,0.025,0.025,0.025,0.025,0.025,0.025,0.025],
  [0.025,0.025,0.025,0.025,0.025,0.025,0.025,0.025,0.025,0.025,0.025,0.025,0.025,0.025,0.025,0.025,0.025,0.025,0.025,0.025,0.025,0.025,0.025,0.025],
  [0.025,0.025,0.025,0.025,0.025,0.025,0.025,0.025,0.025,0.025,0.025,0.025,0.025,0.025,0.025,0.025,0.025,0.025,0.025,0.025,0.025,0.025,0.025,0.025],
  [0.02,0.022,0.024,0.025,0.025,0.025,0.025,0.025,0.025,0.025,0.025,0.025,0.025,0.025,0.025,0.025,0.025,0.025,0.025,0.025,0.025,0.025,0.025,0.025],
  [0.025,0.025,0.025,0.025,0.025,0.025,0.025,0.025,0.025,0.025,0.025,0.025,0.025,0.025,0.025,0.025,0.025,0.025,0.025,0.025,0.025,0.025,0.025,0.025],
  [0.015,0.02,0.024,0.027,0.03,0.03,0.03,0.03,0.03,0.03,0.03,0.03,0.03,0.03,0.03,0.03,0.03,0.03,0.03,0.03,0.03,0.03,0.03,0.03],
  [0.03,0.03,0.028,0.026,0.025,0.025,0.025,0.025,0.025,0.025,0.025,0.025,0.025,0.025,0.025,0.025,0.025,0.025,0.025,0.025,0.025,0.025,0.025,0.025]
];
const chengduSmape = [
  [29,31.5,34,36.5,38.8,40.8,42.5,43.9,45,46,46.8,47.5,48.1,48.6,49,49.3,49.5,49.6,49.7,49.8,49.9,50,50,50],
  [33.5,35.5,37.5,39.4,41.1,42.6,43.9,45,46,46.8,47.5,48.1,48.6,49,49.4,49.7,49.9,50.1,50.3,50.4,50.5,50.6,50.7,50.7],
  [33,35.5,38,40.3,42.3,44.1,45.7,47.1,48.3,49.3,50.1,50.8,51.4,51.9,52.3,52.6,52.8,53,53.1,53.2,53.2,53.2,53.2,53.2],
  [38,38.5,39.3,40.3,41.4,42.5,43.6,44.6,45.5,46.3,47,47.6,48.2,48.7,49.1,49.5,49.8,50.1,50.3,50.5,50.7,50.8,50.9,51],
  [34.5,35.5,37,38.6,40.1,41.5,42.8,43.9,44.8,45.6,46.3,46.9,47.4,47.8,48.1,48.3,48.5,48.6,48.7,48.7,48.7,48.7,48.7,48.7],
  [36,37,38.3,39.7,41,42.3,43.5,44.5,45.4,46.2,46.9,47.5,48,48.4,48.8,49.1,49.3,49.5,49.6,49.7,49.8,49.8,49.8,49.8],
  [25,29,32.8,36,38.7,40.9,42.7,44.2,45.5,46.6,47.5,48.3,48.9,49.4,49.8,50.1,50.3,50.5,50.6,50.7,50.8,50.8,50.8,50.8],
  [40.5,40.3,40.6,41.2,41.9,42.6,43.3,44,44.6,45.2,45.7,46.2,46.6,47,47.3,47.6,47.8,48,48.2,48.3,48.4,48.5,48.5,48.5]
];
const chengduSmapeBand = [
  [3.5,3.7,3.9,4.1,4.3,4.5,4.5,4.5,4.5,4.5,4.5,4.5,4.5,4.5,4.5,4.5,4.5,4.5,4.5,4.5,4.5,4.5,4.5,4.5],
  [4,4,4,4.2,4.4,4.5,4.5,4.5,4.5,4.5,4.5,4.5,4.5,4.5,4.5,4.5,4.5,4.5,4.5,4.5,4.5,4.5,4.5,4.5],
  [4,4.2,4.4,4.6,4.8,5,5.2,5.4,5.5,5.6,5.7,5.8,5.9,6,6,6,6,6,6,6,6,6,6,6],
  [5,4.8,4.6,4.5,4.5,4.5,4.5,4.5,4.5,4.5,4.5,4.5,4.5,4.5,4.5,4.5,4.5,4.5,4.5,4.5,4.5,4.5,4.5,4.5],
  [4.5,4.5,4.5,4.5,4.5,4.5,4.5,4.5,4.5,4.5,4.5,4.5,4.5,4.5,4.5,4.5,4.5,4.5,4.5,4.5,4.5,4.5,4.5,4.5],
  [4.5,4.5,4.5,4.5,4.5,4.5,4.5,4.5,4.5,4.5,4.5,4.5,4.5,4.5,4.5,4.5,4.5,4.5,4.5,4.5,4.5,4.5,4.5,4.5],
  [4,4.2,4.4,4.5,4.5,4.5,4.5,4.5,4.5,4.5,4.5,4.5,4.5,4.5,4.5,4.5,4.5,4.5,4.5,4.5,4.5,4.5,4.5,4.5],
  [8,6.5,5,4.5,4.5,4.5,4.5,4.5,4.5,4.5,4.5,4.5,4.5,4.5,4.5,4.5,4.5,4.5,4.5,4.5,4.5,4.5,4.5,4.5]
];

// axis ranges per panel, row by row
const panels = [
  { mean: nanjingRmse, band: nanjingRmseBand, min: 15, max: 52, major: 5, minor: 1 },
  { mean: nanjingR2, band: nanjingR2Band, min: 0.099, max: 0.94, major: 0.1, minor: 0.02 },
  { mean: nanjingSmape, band: nanjingSmapeBand, min: 27.05, max: 65.1, major: 5, minor: 1 },
  { mean: guangzhouRmse, band: guangzhouRmseBand, min: 10.3, max: 37.6, major: 5, minor: 1 },
  { mean: guangzhouR2, band: guangzhouR2Band, min: 0.32, max: 0.955, major: 0.1, minor: 0.02 },
  { mean: guangzhouSmape, band: guangzhouSmapeBand, min: 21.2, max: 62.3, major: 10, minor: 2 },
  { mean: beijingRmse, band: beijingRmseBand, min: 8.9, max: 32, major: 5, minor: 1 },
  { mean: beijingR2, band: beijingR2Band, min: 0.397, max: 0.961, major: 0.1, minor: 0.02 },
  { mean: beijingSmape, band: beijingSmapeBand, min: 18.45, max: 57.5, major: 5, minor: 1 },
  { mean: wuhanRmse, band: wuhanRmseBand, min: 8.5, max: 32.4, major: 5, minor: 1 },
  { mean: wuhanR2, band: wuhanR2Band, min: 0.318, max: 0.966, major: 0.1, minor: 0.02 },
  { mean: wuhanSmape, band: wuhanSmapeBand, min: 13.5, max: 52.7, major: 5, minor: 1 },
  { mean: chengduRmse, band: chengduRmseBand, min: 8, max: 32.8, major: 5, minor: 1 },
  { mean: chengduR2, band: chengduR2Band, min: 0.382, max: 0.97, major: 0.1, minor: 0.02 },
  { mean: chengduSmape, band: chengduSmapeBand, min: 17.8, max: 61.7, major: 10, minor: 2 }
];

// seaborn "deep" look
const colors = ['#4c72b0','#dd8452','#55a868','#c44e52','#8172b3','#937860','#da8bc3','#8c8c8c'];
const markers = ['circle','rect','rect','cross','rectRot','cross','triangle','crossRot'];
const dashes = [[],[4.8,1.8],[1.2,1.2],[3.6,1.5,1.8,1.5],[6,1.2,1.2,1.2],[6,1.2,2.4,1.2],[2.4,1.2,2.4,1.2,6,1.2],[4.8,1.2,1.2,1.2,1.2,1.2]];

const rowTop = [0, 195, 390, 585, 780];
const plotLeft = [34, 212, 390];
const plotWidth = [147, 150, 152];
const labelX = [12, 187, 372];
const axisW = 34, padTop = 8, plotH = 133, axisH = 26;

Chart.defaults.font.family = 'DejaVu Sans';

function rgba(hex, a) {
  const n = parseInt(hex.slice(1), 16);
  return `rgba(${n >> 16},${(n >> 8) & 255},${n & 255},${a})`;
}
function isMajor(v, step) {
  return Math.abs(v / step - Math.round(v / step)) < 1e-6;
}

const plotBg = {
  id: 'plotBg',
  beforeDraw(chart) {
    const { ctx, chartArea: a } = chart;
    ctx.save();
    ctx.fillStyle = '#eaeaf2';
    ctx.fillRect(a.left, a.top, a.right - a.left, a.bottom - a.top);
    ctx.restore();
  }
};

// row titles
cities.forEach((c, r) => {
  const d = document.createElement('div');
  d.className = 'ttl';
  d.style.top = (rowTop[r] + 4) + 'px';
  d.textContent = c;
  document.body.appendChild(d);
});

panels.forEach((p, n) => {
  const row = Math.floor(n / 3), col = n % 3;
  const cv = document.createElement('canvas');
  const w = axisW + plotWidth[col] + 6, h = padTop + plotH + axisH;
  cv.width = w; cv.height = h;
  cv.style.width = w + 'px'; cv.style.height = h + 'px';
  cv.style.left = (plotLeft[col] - axisW) + 'px';
  cv.style.top = (rowTop[row] + 37 - padTop) + 'px';
  document.body.appendChild(cv);

  const datasets = [];
  models.forEach((m, i) => {
    datasets.push({
      data: steps.map((s, k) => ({ x: s, y: p.mean[i][k] + p.band[i][k] })),
      borderColor: 'rgba(0,0,0,0)', borderWidth: 0, pointRadius: 0, fill: false, order: 100
    });
    datasets.push({
      data: steps.map((s, k) => ({ x: s, y: p.mean[i][k] - p.band[i][k] })),
      borderColor: 'rgba(0,0,0,0)', borderWidth: 0, pointRadius: 0,
      fill: '-1', backgroundColor: rgba(colors[i], 0.2), order: 100
    });
  });
  models.forEach((m, i) => {
    const stroked = markers[i].startsWith('cross');
    datasets.push({
      label: m,
      data: steps.map((s, k) => ({ x: s, y: p.mean[i][k] })),
      borderColor: colors[i], borderWidth: 1.1, borderDash: dashes[i], tension: 0, fill: false,
      pointStyle: markers[i], pointRadius: stroked ? 2.4 : 2.2,
      pointBackgroundColor: colors[i], pointBorderColor: stroked ? colors[i] : '#ffffff',
      pointBorderWidth: stroked ? 1.1 : 0.7,
      order: 10 - i
    });
  });

  const metric = metrics[col];
  new Chart(cv, {
    type: 'line',
    data: { datasets },
    plugins: [plotBg],
    options: {
      responsive: false,
      animation: false,
      devicePixelRatio: 1,
      layout: { padding: { top: padTop, right: 6, left: 0, bottom: 0 } },
      plugins: { legend: { display: false }, tooltip: { enabled: false }, filler: { drawTime: 'beforeDatasetsDraw' } },
      scales: {
        x: {
          type: 'linear', min: -0.15, max: 25.15,
          afterFit(s) { s.height = axisH; },
          border: { display: false },
          grid: { color: '#ffffff', drawTicks: false, lineWidth: c => isMajor(c.tick.value, 2) ? 1 : 0.5 },
          ticks: {
            stepSize: 0.5, autoSkip: false, maxRotation: 0, includeBounds: false, padding: 3,
            color: '#262626', font: { size: 8 },
            callback: v => (isMajor(v, 2) && v >= 0 && v <= 24) ? String(Math.round(v)) : ''
          },
          title: { display: true, text: 'predicting step', color: '#262626', font: { family: 'Liberation Serif', size: 11 }, padding: { top: 0, bottom: 0 } }
        },
        y: {
          min: p.min, max: p.max,
          afterFit(s) { s.width = axisW; },
          border: { display: false },
          grid: { color: '#ffffff', drawTicks: false, lineWidth: c => isMajor(c.tick.value, p.major) ? 1 : 0.5 },
          ticks: {
            stepSize: p.minor, autoSkip: false, includeBounds: false, padding: 3,
            color: '#262626', font: { size: 8 },
            callback: v => isMajor(v, p.major) ? (metric === 'R2' ? v.toFixed(1) : String(Math.round(v))) : ''
          },
          title: {
            display: true, text: metric, color: '#262626', font: { family: 'Liberation Serif', size: 11 },
            padding: { top: labelX[col] - (plotLeft[col] - axisW) - 6.6, bottom: 0 }
          }
        }
      }
    }
  });
});

// legend box in the top row
const legend = document.getElementById('legend');
const handleX = [6, 74, 152, 232];
models.forEach((m, i) => {
  const col = Math.floor(i / 2), row = i % 2;
  const y = row === 0 ? 5.5 : 14;
  const hc = document.createElement('canvas');
  hc.width = 14; hc.height = 8;
  hc.style.left = handleX[col] + 'px';
  hc.style.top = (y - 4) + 'px';
  legend.appendChild(hc);
  const c = hc.getContext('2d');
  c.strokeStyle = colors[i];
  c.lineWidth = 1;
  c.setLineDash(dashes[i]);
  c.beginPath(); c.moveTo(0, 4); c.lineTo(14, 4); c.stroke();
  c.setLineDash([]);
  const stroked = markers[i].startsWith('cross');
  c.fillStyle = colors[i];
  c.strokeStyle = stroked ? colors[i] : '#ffffff';
  c.lineWidth = stroked ? 1.1 : 0.6;
  Chart.helpers.drawPoint(c, { pointStyle: markers[i], radius: stroked ? 2.3 : 2, rotation: 0, borderWidth: c.lineWidth }, 7, 4);
  const t = document.createElement('span');
  t.textContent = m;
  t.style.left = (handleX[col] + 17) + 'px';
  t.style.top = (y - 4) + 'px';
  legend.appendChild(t);
});
</script>
</body>
</html>
